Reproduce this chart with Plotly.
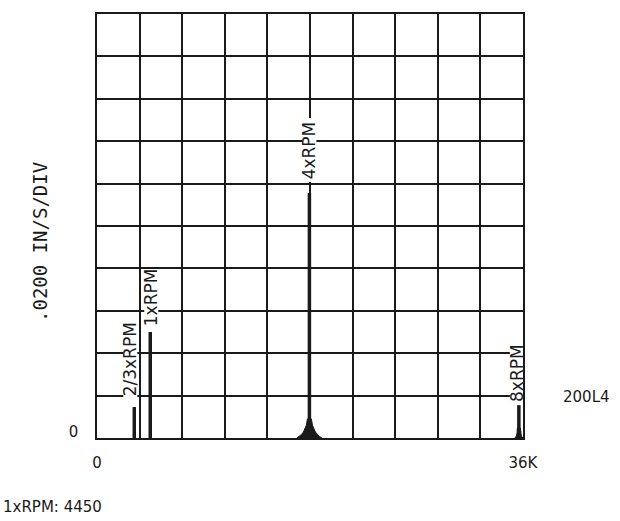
import plotly.graph_objects as go

# ---------------- data ----------------
peak_labels = ["2/3xRPM", "1xRPM", "4xRPM", "8xRPM"]
peak_freq = [3150, 4500, 17950, 35650]          # CPM
peak_amp = [0.0146, 0.0500, 0.1156, 0.0155]     # in/s

# skirt profile of the 4xRPM peak (offset CPM, amplitude in/s)
skirt4_offset = [1060, 845, 676, 507, 380, 254, 170]
skirt4_amp = [0.0, 0.0007, 0.00165, 0.0028, 0.0042, 0.0061, 0.0090]
# skirt profile of the 8xRPM peak
skirt8_offset = [340, 210, 150, 130]
skirt8_amp = [0.0, 0.0009, 0.0024, 0.0047]

x_ticks = [0, 36000]
x_ticktext = ["0", "36K"]
y_ticks = [0]
y_ticktext = ["0"]
x_max = 36000
y_max = 0.2
x_div = 3600
y_div = 0.02

y_title = ".0200 IN/S/DIV"
side_note = "200L4"
foot_note = "1xRPM: 4450"

# ---------------- style ----------------
W, H = 620, 521
ML, MR, MT, MB = 97, 97, 14, 83
PW, PH = W - ML - MR, H - MT - MB
px_x = x_max / PW
px_y = y_max / PH
INK = "#1a1a1a"
FONT = "DejaVu Sans"

label_xshift = [-4, 1, 0, -2]      # px
label_gap = [10, 5, 13, 2]         # px between peak top and label start
label_len = [75, 55, 60, 57]       # px length of rotated label
LABEL_SIZE = 17

fig = go.Figure()

# white backgrounds behind the labels (hide gridlines)
bx, by = [], []
for f, a, xs, g, ln in zip(peak_freq, peak_amp, label_xshift, label_gap, label_len):
    x0 = f + (xs - 7) * px_x
    x1 = f + (xs + 7) * px_x
    y0 = a + (g - 2) * px_y
    y1 = a + (g + ln + 2) * px_y
    bx += [x0, x1, x1, x0, x0, None]
    by += [y0, y0, y1, y1, y0, None]
fig.add_trace(go.Scatter(x=bx, y=by, mode="lines", fill="toself",
                         fillcolor="white", line=dict(width=0, color="white"),
                         hoverinfo="skip"))

# peak skirts
for idx, offs, amps in [(2, skirt4_offset, skirt4_amp), (3, skirt8_offset, skirt8_amp)]:
    f = peak_freq[idx]
    sx = [f - o for o in offs] + [f + o for o in reversed(offs)]
    sy = list(amps) + list(reversed(amps))
    fig.add_trace(go.Scatter(x=sx, y=sy, mode="lines", fill="toself",
                             fillcolor=INK, line=dict(width=1, color=INK),
                             hoverinfo="skip"))

# peak lines
lx, ly = [], []
for f, a in zip(peak_freq, peak_amp):
    lx += [f, f, None]
    ly += [0, a, None]
fig.add_trace(go.Scatter(x=lx, y=ly, mode="lines",
                         line=dict(width=3.5, color=INK), hoverinfo="skip"))

annotations = []
for lab, f, a, xs, g in zip(peak_labels, peak_freq, peak_amp, label_xshift, label_gap):
    annotations.append(dict(x=f, y=a, xref="x", yref="y", text=lab,
                            textangle=-90, showarrow=False,
                            xanchor="center", yanchor="bottom",
                            xshift=xs, yshift=g, borderpad=0,
                            font=dict(family=FONT, size=LABEL_SIZE, color=INK)))

annotations.append(dict(x=(40 - ML) / PW, y=(MT + PH - 242) / PH, xref="paper", yref="paper",
                        text=y_title, textangle=-90, showarrow=False,
                        xanchor="center", yanchor="middle",
                        font=dict(family="DejaVu Sans Mono", size=19, color=INK)))
annotations.append(dict(x=(586 - ML) / PW, y=(MT + PH - 397) / PH, xref="paper", yref="paper",
                        text=side_note, showarrow=False,
                        xanchor="center", yanchor="middle",
                        font=dict(family=FONT, size=15, color=INK)))
annotations.append(dict(x=(1 - ML) / PW, y=(MT + PH - 507) / PH, xref="paper", yref="paper",
                        text=foot_note, showarrow=False,
                        xanchor="left", yanchor="middle",
                        font=dict(family=FONT, size=15, color=INK)))

axis_common = dict(showgrid=False, zeroline=False, showline=True, mirror=True,
                   linecolor=INK, linewidth=1.5, ticks="",
                   tickfont=dict(family=FONT, size=15, color=INK))

fig.update_layout(
    width=W, height=H,
    margin=dict(l=ML, r=MR, t=MT, b=MB),
    paper_bgcolor="white", plot_bgcolor="white",
    showlegend=False,
    xaxis=dict(range=[0, x_max], tickmode="array", tickvals=x_ticks, ticktext=x_ticktext,
               minor=dict(dtick=x_div, tick0=0, showgrid=True, gridcolor=INK, gridwidth=1.5, ticks=""),
               ticklabelstandoff=10, **axis_common),
    yaxis=dict(range=[0, y_max], tickmode="array", tickvals=y_ticks, ticktext=y_ticktext,
               minor=dict(dtick=y_div, tick0=0, showgrid=True, gridcolor=INK, gridwidth=1.5, ticks=""),
               ticklabelstandoff=14, ticklabelshift=-6, **axis_common),
    annotations=annotations,
)

fig.write_html("out.html", config={"displayModeBar": False},
               post_script="document.body.style.margin='0';")
